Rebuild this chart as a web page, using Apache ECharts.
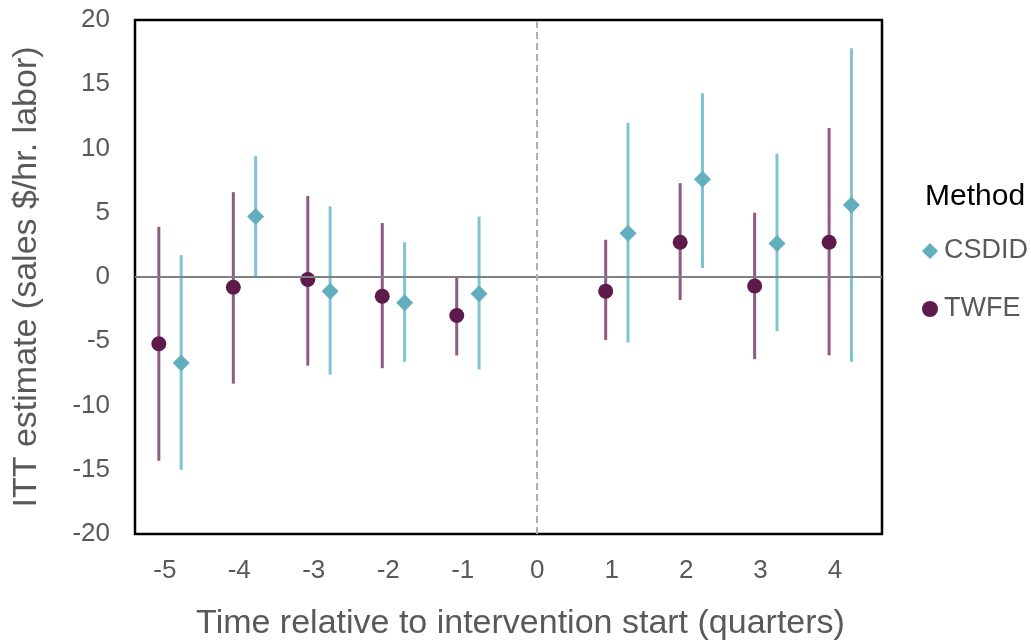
<!DOCTYPE html>
<html>
<head>
<meta charset="utf-8">
<script src="https://cdn.jsdelivr.net/npm/echarts@6/dist/echarts.min.js"></script>
<style>
  html, body { margin: 0; padding: 0; background: #fff; }
  #chart { width: 1031px; height: 641px; }
</style>
</head>
<body>
<div id="chart"></div>
<script>
// event-time periods (quarters relative to start)
const periods = [-5, -4, -3, -2, -1, 1, 2, 3, 4]
const xTicks = [-5, -4, -3, -2, -1, 0, 1, 2, 3, 4]

// TWFE estimates and 95% CI
const twfeEst = [-5.2, -0.8, -0.2, -1.5, -3.0, -1.1, 2.7, -0.7, 2.7]
const twfeLo = [-14.3, -8.3, -6.9, -7.1, -6.1, -4.9, -1.8, -6.4, -6.1]
const twfeHi = [3.9, 6.6, 6.3, 4.2, 0.0, 2.9, 7.3, 5.0, 11.6]

// CSDID estimates and 95% CI
const csdidEst = [-6.7, 4.7, -1.1, -2.0, -1.3, 3.4, 7.6, 2.6, 5.6]
const csdidLo = [-15.0, 0.0, -7.6, -6.6, -7.2, -5.1, 0.7, -4.2, -6.6]
const csdidHi = [1.7, 9.4, 5.5, 2.7, 4.7, 12.0, 14.3, 9.6, 17.8]

const font = "'Liberation Sans', Arial, sans-serif"
const grey = '#595959'

// dodge the two methods around each period
const twfeShift = -0.08
const csdidShift = 0.22

const chart = echarts.init(document.getElementById('chart'))

// vertical CI bar
const ciBar = (color) => (params, api) => {
  const x = api.value(0)
  const lo = api.coord([x, api.value(1)])
  const hi = api.coord([x, api.value(2)])
  return {
    type: 'line',
    shape: { x1: lo[0], y1: lo[1], x2: hi[0], y2: hi[1] },
    style: { stroke: color, lineWidth: 3 }
  }
}

const option = {
  backgroundColor: '#fff',
  animation: false,
  title: {
    text: 'Method',
    left: 920,
    top: 177,
    textStyle: { fontFamily: font, fontSize: 30, fontWeight: 'normal', color: '#000' }
  },
  legend: {
    orient: 'vertical',
    left: 917,
    top: 231,
    itemWidth: 16,
    itemHeight: 16,
    itemGap: 28,
    data: [
      { name: 'CSDID', icon: 'diamond' },
      { name: 'TWFE', icon: 'circle' }
    ],
    textStyle: { fontFamily: font, fontSize: 27, color: grey, lineHeight: 30, padding: [0, 0, 0, 1] }
  },
  grid: {
    left: 135,
    right: 149,
    top: 20,
    bottom: 107,
    outerBoundsMode: 'none',
    show: true,
    borderColor: '#000',
    borderWidth: 2.5,
    backgroundColor: '#fff'
  },
  xAxis: {
    type: 'value',
    min: -5.4,
    max: 4.63,
    name: 'Time relative to intervention start (quarters)',
    nameLocation: 'middle',
    nameGap: 73,
    nameTextStyle: { fontFamily: font, fontSize: 34, color: grey, padding: [0, 0, 0, 24] },
    axisLine: { show: false },
    axisTick: { show: false },
    splitLine: { show: false },
    axisLabel: {
      customValues: xTicks,
      fontFamily: font,
      fontSize: 26,
      color: grey,
      margin: 24
    }
  },
  yAxis: {
    type: 'value',
    min: -20,
    max: 20,
    interval: 5,
    name: 'ITT estimate (sales $/hr. labor)',
    nameLocation: 'middle',
    nameGap: 91,
    nameTextStyle: { fontFamily: font, fontSize: 34, color: grey },
    axisLine: { show: false },
    axisTick: { show: false },
    splitLine: { show: false },
    axisLabel: { fontFamily: font, fontSize: 26, color: grey, margin: 25 }
  },
  series: [
    {
      type: 'custom',
      name: 'twfe-ci',
      renderItem: ciBar('#8E5C80'),
      encode: { x: 0, y: [1, 2] },
      data: periods.map((p, i) => [p + twfeShift, twfeLo[i], twfeHi[i]]),
      z: 2,
      markLine: {
        silent: true,
        symbol: 'none',
        label: { show: false },
        data: [
          { yAxis: 0, lineStyle: { color: '#808080', width: 2, type: 'solid' } },
          { xAxis: 0, lineStyle: { color: '#AFAFAF', width: 2, type: [7, 4] } }
        ]
      }
    },
    {
      type: 'custom',
      name: 'csdid-ci',
      renderItem: ciBar('#80C3D3'),
      encode: { x: 0, y: [1, 2] },
      data: periods.map((p, i) => [p + csdidShift, csdidLo[i], csdidHi[i]]),
      z: 2
    },
    {
      type: 'scatter',
      name: 'TWFE',
      symbol: 'circle',
      symbolSize: 15,
      itemStyle: { color: '#5E1A4A', opacity: 1 },
      data: periods.map((p, i) => [p + twfeShift, twfeEst[i]]),
      z: 3
    },
    {
      type: 'scatter',
      name: 'CSDID',
      symbol: 'diamond',
      symbolSize: 17,
      itemStyle: { color: '#62AEBF', opacity: 1 },
      data: periods.map((p, i) => [p + csdidShift, csdidEst[i]]),
      z: 3
    }
  ]
}

chart.setOption(option)
</script>
</body>
</html>
